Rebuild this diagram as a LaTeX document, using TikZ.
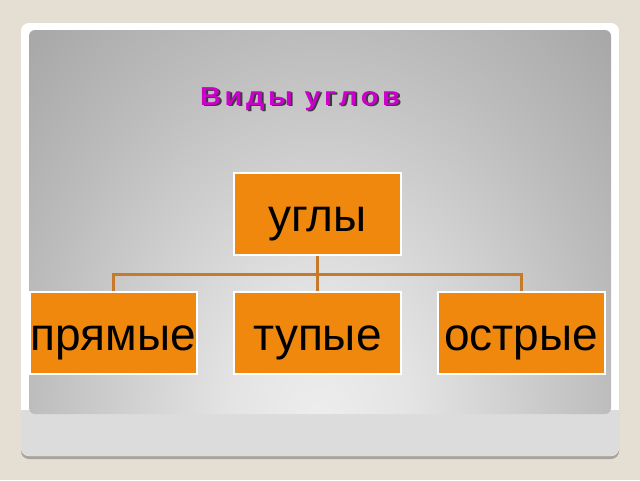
\documentclass[tikz,border=0pt]{standalone}
\usepackage{fontspec}
\setmainfont{Liberation Sans}
\newfontfamily\titlefont[LetterSpace=12]{Liberation Sans Bold}
\definecolor{beige}{HTML}{E5DED3}
\definecolor{boxorange}{HTML}{F0880E}
\definecolor{conn}{HTML}{C67B2C}
\definecolor{titlemag}{HTML}{CC00CC}
\definecolor{titleshadow}{HTML}{3A3A3A}
\definecolor{cardshadow}{HTML}{A8A49B}
\definecolor{band}{HTML}{DCDCDC}
\definecolor{pgA}{HTML}{EDEDED}
\definecolor{pgB}{HTML}{E4E4E4}
\definecolor{pgC}{HTML}{D0D0D0}
\definecolor{pgD}{HTML}{BCBCBC}
\definecolor{pgE}{HTML}{A8A8A8}
\definecolor{pgF}{HTML}{A0A0A0}
\pgfdeclareradialshading{panelshade}{\pgfpointorigin}{color(0bp)=(pgA); color(7bp)=(pgB); color(15bp)=(pgC); color(23bp)=(pgD); color(32bp)=(pgE); color(50bp)=(pgF)}
\tikzset{
  box/.style={draw=white, line width=2pt, fill=boxorange, minimum width=167pt,
    minimum height=82pt, inner sep=0pt, outer sep=0pt,
    font=\fontsize{46}{50}\selectfont, text height=50pt, text depth=15pt},
  connector/.style={draw=conn, line width=3pt, shorten >=1pt, shorten <=1pt},
  titletext/.style={anchor=base west, inner sep=0pt, xscale=1.12,
    font=\titlefont\fontsize{26}{30}\selectfont}
}
\begin{document}
\begin{tikzpicture}[x=1pt,y=-1pt]
\useasboundingbox (0,0) rectangle (640,480);
\fill[beige] (0,0) rectangle (640,480);
% card
\fill[cardshadow, rounded corners=8pt] (21,26) rectangle (619,459);
\fill[white, rounded corners=8pt] (21,23) rectangle (619,456);
\begin{scope}
  \clip[rounded corners=8pt] (21,23) rectangle (619,456);
  \fill[band] (21,410) rectangle (619,456);
\end{scope}
% panel
\begin{scope}
  \clip[rounded corners=6pt] (29,30) rectangle (611,414);
  \shade[shading=panelshade] (0,0) rectangle (640,840);
\end{scope}
% title
\node[titletext, text=titleshadow] (tsh) at (201.8,106.8) {Виды углов};
\node[titletext, text=titlemag] (title) at (200,105) {Виды углов};
% boxes
\node[box] (ug) at (317.5,213.5) {углы};
\node[box] (pr) at (113,332.5) {прямые};
\node[box] (tu) at (317.5,332.5) {тупые};
\node[box] (os) at (521,332.5) {острые};
% connectors
\coordinate (bus) at (317.5,274);
\draw[connector] (ug.south) -- (tu.north);
\draw[connector] (pr.north) |- (bus) -| (os.north);
\end{tikzpicture}
\end{document}
